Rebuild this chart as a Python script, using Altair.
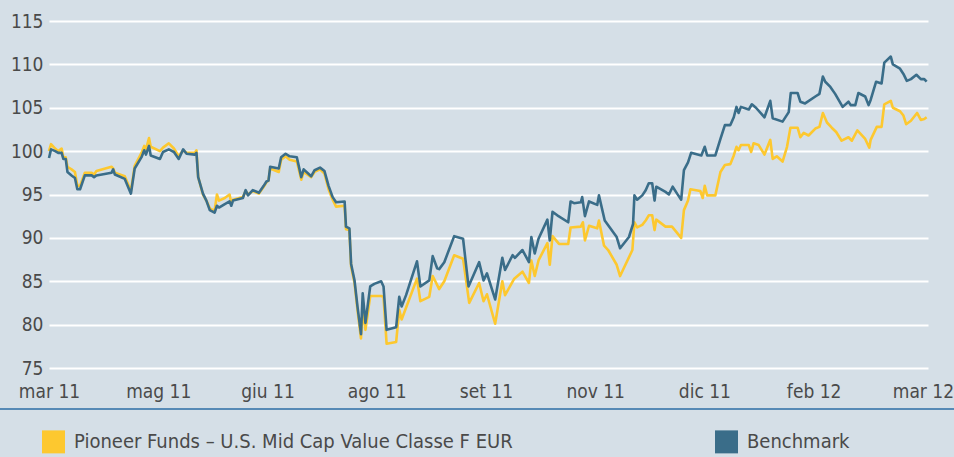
import json
import altair as alt
import pandas as pd

# ---------------- data ----------------
SERIES = ["Pioneer Funds – U.S. Mid Cap Value Classe F EUR", "Benchmark"]
COLORS = ["#fdc82f", "#3a6d89"]
X_LABELS = ["mar 11", "mag 11", "giu 11", "ago 11", "set 11", "nov 11", "dic 11", "feb 12", "mar 12"]
X_TICKS = [0, 32, 64, 96, 128, 160, 192, 224, 256]
Y_TICKS = [75, 80, 85, 90, 95, 100, 105, 110, 115]

bench_t = [0, 0.6, 1.8, 2.7, 3.7, 4.2, 4.9, 5.4, 6.6, 7.6,
           8.3, 9.1, 10.5, 12.5, 13.2, 13.9, 18.3, 18.8, 19.3, 22.2,
           24.0, 25.1, 27.1, 27.9, 28.4, 29.3, 29.8, 32.5, 33.4, 35.1,
           36.6, 38.0, 39.3, 40.3, 42.7, 43.2, 43.7, 45.1, 46.1, 47.1,
           48.5, 49.2, 49.8, 51.5, 52.9, 53.4, 53.9, 56.8, 57.6, 58.3,
           59.7, 61.5, 62.9, 63.7, 64.3, 64.8, 67.3, 68.0, 69.3, 70.5,
           72.6, 73.9, 74.6, 76.8, 77.8, 79.4, 80.7, 81.9, 83.1, 84.1,
           86.6, 87.0, 88.0, 88.5, 89.5, 90.4, 91.4, 91.9, 92.7, 94.1,
           95.3, 97.3, 98.0, 98.9, 101.7, 102.6, 103.3, 104.6, 107.8, 108.8,
           111.4, 112.4, 113.7, 114.3, 115.8, 118.7, 121.3, 122.9, 126.0, 127.3,
           128.3, 130.7, 132.8, 133.6, 135.8, 136.5, 138.7, 140.6, 141.3, 142.3,
           143.4, 146.0, 146.7, 147.5, 148.9, 152.1, 152.8, 153.8, 155.8, 156.2,
           157.0, 158.2, 160.6, 161.1, 162.8, 166.3, 167.3, 169.9, 171.1, 171.5,
           172.3, 173.8, 174.8, 175.7, 176.7, 177.4, 177.9, 180.6, 181.6, 182.7,
           184.0, 185.2, 186.0, 187.2, 188.1, 191.1, 192.1, 192.8, 195.2, 196.7,
           198.0, 199.6, 200.6, 201.4, 202.0, 202.7, 205.0, 205.9, 207.1, 209.6,
           211.3, 212.0, 214.9, 216.7, 217.3, 219.3, 220.1, 221.5, 224.5, 225.7,
           226.7, 227.4, 228.9, 230.3, 232.5, 234.2, 234.9, 236.2, 237.1, 239.1,
           240.1, 240.7, 242.3, 243.9, 244.7, 246.6, 247.2, 249.3, 250.3, 251.3,
           252.5, 254.1, 255.4, 256.4, 257.1]
bench_v = [99.2, 100.2, 100.0, 99.8, 99.8, 99.1, 99.1, 97.6, 97.2, 96.9,
           95.6, 95.6, 97.2, 97.2, 97.0, 97.2, 97.5, 97.9, 97.3, 96.8,
           95.1, 98.0, 99.3, 100.1, 99.6, 100.6, 99.5, 99.1, 99.9, 100.2,
           99.9, 99.1, 100.2, 99.7, 99.6, 99.8, 97.0, 95.1, 94.3, 93.2,
           92.9, 93.7, 93.5, 93.9, 94.2, 93.7, 94.3, 94.6, 95.5, 94.9,
           95.5, 95.2, 96.0, 96.5, 96.6, 98.2, 98.0, 99.3, 99.7, 99.4,
           99.3, 97.0, 97.9, 97.1, 97.8, 98.1, 97.7, 96.0, 94.7, 94.1,
           94.2, 91.3, 91.1, 87.0, 85.1, 82.0, 78.9, 83.6, 80.2, 84.4,
           84.7, 85.0, 84.4, 79.4, 79.7, 83.2, 82.1, 83.4, 87.3, 84.4,
           85.1, 87.9, 86.5, 86.4, 87.2, 90.2, 89.9, 84.4, 87.2, 85.1,
           85.9, 82.9, 87.7, 86.3, 88.0, 87.7, 88.6, 87.2, 90.1, 88.2,
           89.9, 92.1, 89.7, 93.0, 92.6, 91.8, 94.2, 94.0, 94.1, 94.7,
           92.5, 94.2, 93.8, 94.9, 92.0, 90.1, 88.8, 90.1, 91.6, 94.9,
           94.4, 94.9, 95.5, 96.3, 96.3, 94.3, 95.9, 95.3, 95.0, 95.9,
           95.1, 94.4, 97.8, 98.7, 99.8, 99.5, 100.5, 99.5, 99.5, 101.4,
           103.0, 103.0, 103.9, 105.1, 104.4, 105.1, 104.8, 105.4, 105.0, 103.9,
           105.8, 103.8, 103.4, 104.5, 106.7, 106.7, 105.7, 105.5, 106.3, 106.6,
           108.6, 108.0, 107.4, 106.6, 105.1, 105.7, 105.3, 105.3, 106.7, 106.3,
           105.3, 105.9, 108.0, 107.8, 110.2, 110.9, 110.0, 109.5, 108.9, 108.1,
           108.3, 108.8, 108.3, 108.3, 108.0]

fund_t = [0, 0.6, 1.8, 2.7, 3.7, 4.2, 4.9, 5.4, 6.6, 7.6,
          8.3, 9.1, 10.5, 12.5, 13.2, 13.9, 18.3, 18.8, 19.3, 22.2,
          24.0, 25.1, 27.1, 27.9, 28.4, 29.3, 29.8, 32.5, 33.4, 35.1,
          36.6, 38.0, 39.3, 40.3, 42.7, 43.2, 43.7, 45.1, 46.1, 47.1,
          48.5, 49.2, 49.8, 51.5, 52.9, 53.4, 53.9, 56.8, 57.6, 58.3,
          59.7, 61.5, 62.9, 63.7, 64.3, 64.8, 67.3, 68.0, 69.3, 70.5,
          72.6, 73.9, 74.6, 76.8, 77.8, 79.4, 80.7, 81.9, 83.1, 84.1,
          86.6, 87.0, 88.0, 88.5, 89.5, 90.4, 91.4, 91.9, 92.7, 94.1,
          97.3, 98.0, 98.9, 101.7, 102.6, 103.3, 107.8, 108.8, 111.4, 112.4,
          114.3, 115.8, 118.7, 121.3, 123.1, 126.0, 127.3, 128.3, 130.7, 132.8,
          133.6, 136.3, 138.7, 140.6, 141.3, 142.3, 143.4, 146.0, 146.7, 147.5,
          149.4, 152.1, 152.8, 155.8, 156.4, 157.0, 158.2, 160.6, 161.1, 162.6,
          163.8, 166.3, 167.3, 170.9, 171.5, 172.3, 173.8, 174.8, 175.7, 176.7,
          177.4, 177.9, 180.6, 182.5, 185.2, 186.0, 187.2, 187.9, 190.8, 191.5,
          192.1, 192.8, 195.2, 196.7, 198.0, 199.6, 200.6, 201.4, 202.0, 202.7,
          205.0, 205.7, 206.4, 207.9, 209.6, 211.3, 212.0, 213.2, 214.9, 216.2,
          217.2, 219.3, 220.1, 221.1, 222.5, 224.5, 225.7, 226.7, 227.9, 229.3,
          230.6, 232.2, 234.2, 235.2, 236.8, 239.1, 240.3, 240.7, 242.5, 243.9,
          244.7, 246.6, 247.2, 249.3, 250.3, 251.1, 252.5, 254.3, 255.4, 256.4,
          257.1]
fund_v = [100.0, 100.8, 100.3, 100.0, 100.3, 99.3, 99.3, 98.2, 97.9, 97.6,
          96.0, 96.0, 97.5, 97.5, 97.3, 97.7, 98.2, 98.0, 97.5, 97.1,
          95.4, 98.3, 99.8, 100.6, 100.2, 101.5, 100.5, 100.0, 100.4, 100.9,
          100.3, 99.4, 100.1, 99.8, 99.8, 100.1, 97.0, 95.0, 94.3, 93.4,
          93.1, 95.0, 94.3, 94.6, 95.0, 94.0, 94.4, 94.7, 95.4, 95.0,
          95.4, 95.1, 95.9, 96.4, 96.6, 98.0, 97.6, 99.0, 99.4, 99.0,
          98.8, 96.7, 97.6, 97.0, 97.6, 97.9, 97.4, 95.6, 94.4, 93.6,
          93.7, 91.0, 90.9, 86.7, 84.8, 81.6, 78.4, 81.7, 79.4, 83.3,
          83.3, 83.2, 77.8, 78.0, 81.7, 80.6, 85.3, 82.7, 83.2, 85.6,
          84.1, 85.0, 88.0, 87.6, 82.5, 84.8, 82.7, 83.5, 80.1, 85.0,
          83.4, 85.3, 86.1, 84.8, 87.4, 85.6, 87.4, 89.4, 86.9, 90.2,
          89.3, 89.3, 91.2, 91.3, 91.8, 89.7, 91.4, 91.1, 92.0, 89.1,
          88.6, 86.9, 85.6, 88.6, 91.8, 91.2, 91.5, 92.0, 92.6, 92.6,
          90.9, 92.1, 91.3, 91.3, 90.0, 93.2, 94.3, 95.6, 95.4, 94.6,
          96.0, 94.9, 94.9, 97.6, 98.4, 98.5, 99.5, 100.5, 100.1, 100.7,
          100.7, 99.9, 100.9, 100.7, 99.6, 101.3, 99.1, 99.4, 98.8, 100.5,
          102.7, 102.7, 101.6, 102.1, 101.8, 102.6, 102.8, 104.4, 103.3, 102.7,
          102.2, 101.2, 101.6, 101.2, 102.4, 101.4, 100.4, 101.3, 102.8, 102.8,
          105.4, 105.8, 105.0, 104.6, 104.1, 103.1, 103.5, 104.4, 103.6, 103.7,
          103.9]

# ---------------- build ----------------
fund_df = pd.DataFrame({"t": fund_t, "v": fund_v, "serie": SERIES[0]})
bench_df = pd.DataFrame({"t": bench_t, "v": bench_v, "serie": SERIES[1]})

FONT = "Liberation Sans Narrow, DejaVu Sans Condensed, Arial Narrow, sans-serif"
TEXT = "#4a4a4a"
BG = "#d5dfe7"

label_expr = "%s[indexof(%s, datum.value)]" % (json.dumps(X_LABELS), json.dumps(X_TICKS))

x_enc = alt.X("t:Q",
              scale=alt.Scale(domain=[0, 257.5], nice=False, zero=False),
              axis=alt.Axis(title=None, values=X_TICKS, labelExpr=label_expr, grid=False,
                            domain=False, ticks=False, labelFontSize=19, labelFont=FONT,
                            labelColor=TEXT, labelPadding=14, labelFlush=False))
y_enc = alt.Y("v:Q",
              scale=alt.Scale(domain=[75, 115], nice=False, zero=False),
              axis=alt.Axis(title=None, values=Y_TICKS, grid=True, gridColor="white",
                            gridWidth=2, domain=False, ticks=False, labelFontSize=19,
                            labelFont=FONT, labelColor=TEXT, labelPadding=6))
color_enc = alt.Color("serie:N",
                      scale=alt.Scale(domain=SERIES, range=COLORS),
                      legend=alt.Legend(title=None, orient="none", legendX=-7, legendY=409,
                                        direction="horizontal", columns=2,
                                        symbolType="square", symbolSize=132,
                                        symbolStrokeWidth=11.5, labelFontSize=20,
                                        labelFont=FONT, labelColor=TEXT, labelOffset=9,
                                        columnPadding=184, labelLimit=700))

fund_line = alt.Chart(fund_df).mark_line(strokeWidth=2.6, strokeJoin="round").encode(
    x=x_enc, y=y_enc, color=color_enc, order="t:Q")
bench_line = alt.Chart(bench_df).mark_line(strokeWidth=2.6, strokeJoin="round").encode(
    x=x_enc, y=y_enc, color=color_enc, order="t:Q")

base_rule = alt.Chart(pd.DataFrame({"k": [0]})).mark_rule(color="#2b6ea6", strokeWidth=1.5).encode(
    x=alt.value(-49), x2=alt.value(905), y=alt.value(388))

chart = alt.layer(fund_line, bench_line, base_rule).properties(
    width=879, height=347,
    autosize=alt.AutoSizeParams(type="none"),
    padding={"left": 49, "top": 21, "right": 26, "bottom": 89},
    background=BG,
).configure_view(strokeWidth=0)

chart.save("out.html", embed_options={"renderer": "svg", "actions": False})
